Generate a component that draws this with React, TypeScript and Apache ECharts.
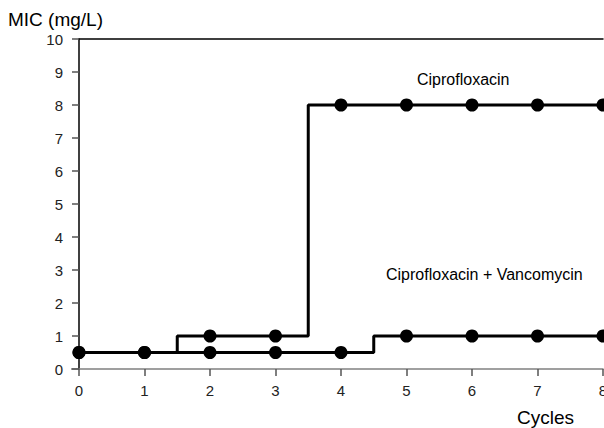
import React, { useEffect, useRef } from "react";
import * as echarts from "echarts";

const cycles = [0, 1, 2, 3, 4, 5, 6, 7, 8];
const cipro = [0.5, 0.5, 1, 1, 8, 8, 8, 8, 8];
const ciproVanco = [0.5, 0.5, 0.5, 0.5, 0.5, 1, 1, 1, 1];
const yTicks = [0, 1, 2, 3, 4, 5, 6, 7, 8, 9, 10];
const labels = { cipro: "Ciprofloxacin", combo: "Ciprofloxacin + Vancomycin" };

const FONT = "'Liberation Sans', Arial, sans-serif";
const W = 640;
const H = 428;

export default function App() {
  const ref = useRef<HTMLDivElement>(null);
  useEffect(() => {
    if (!ref.current) return;
    const chart = echarts.init(ref.current, null, { renderer: "svg", width: W, height: H });
    const seriesStyle = (name: string, data: number[]) => ({
      name,
      type: "line",
      step: "middle",
      data: cycles.map((c, i) => [c, data[i]]),
      symbol: "circle",
      symbolSize: 13,
      lineStyle: { color: "#000", width: 3 },
      itemStyle: { color: "#000" },
      clip: false,
    });
    chart.setOption({
      animation: false,
      backgroundColor: "#fff",
      grid: { left: 79, top: 39, width: 524, bottom: 59, containLabel: false },
      xAxis: [
        {
          type: "value",
          min: 0,
          max: 8,
          interval: 1,
          axisLine: { show: true, lineStyle: { color: "#808080", width: 1.5 } },
          axisTick: { show: true, length: 7, lineStyle: { color: "#555", width: 1.5 } },
          axisLabel: { color: "#222", fontSize: 15, fontFamily: FONT, margin: 14 },
          splitLine: { show: false },
        },
        {
          type: "value",
          position: "top",
          min: 0,
          max: 8,
          axisLine: { show: true, lineStyle: { color: "#000", width: 1.5 } },
          axisTick: { show: false },
          axisLabel: { show: false },
          splitLine: { show: false },
        },
      ],
      yAxis: {
        type: "value",
        min: yTicks[0],
        max: yTicks[yTicks.length - 1],
        interval: 1,
        axisLine: { show: true, lineStyle: { color: "#000", width: 1.5 } },
        axisTick: { show: true, length: 7, lineStyle: { color: "#555", width: 1.5 } },
        axisLabel: { color: "#222", fontSize: 15, fontFamily: FONT, margin: 16 },
        splitLine: { show: false },
      },
      series: [seriesStyle(labels.cipro, cipro), seriesStyle(labels.combo, ciproVanco)],
      graphic: [
        {
          type: "line",
          shape: { x1: 71, y1: 369, x2: 79, y2: 369 },
          style: { stroke: "#808080", lineWidth: 1.5 },
        },
        {
          type: "text",
          left: 8,
          top: 10,
          style: { text: "MIC (mg/L)", fontSize: 19, fontFamily: FONT, fill: "#000" },
        },
        {
          type: "text",
          left: 517,
          top: 408,
          style: { text: "Cycles", fontSize: 19, fontFamily: FONT, fill: "#000" },
        },
        {
          type: "text",
          left: 417,
          top: 71,
          style: { text: labels.cipro, fontSize: 16, fontFamily: FONT, fill: "#000" },
        },
        {
          type: "text",
          left: 386,
          top: 266,
          style: { text: labels.combo, fontSize: 16, fontFamily: FONT, fill: "#000" },
        },
      ],
    });
    return () => chart.dispose();
  }, []);
  return (
    <div style={{ position: "fixed", left: 0, top: 0, width: 604, height: 428, overflow: "hidden", background: "#fff" }}>
      <div ref={ref} style={{ width: W, height: H }} />
    </div>
  );
}
